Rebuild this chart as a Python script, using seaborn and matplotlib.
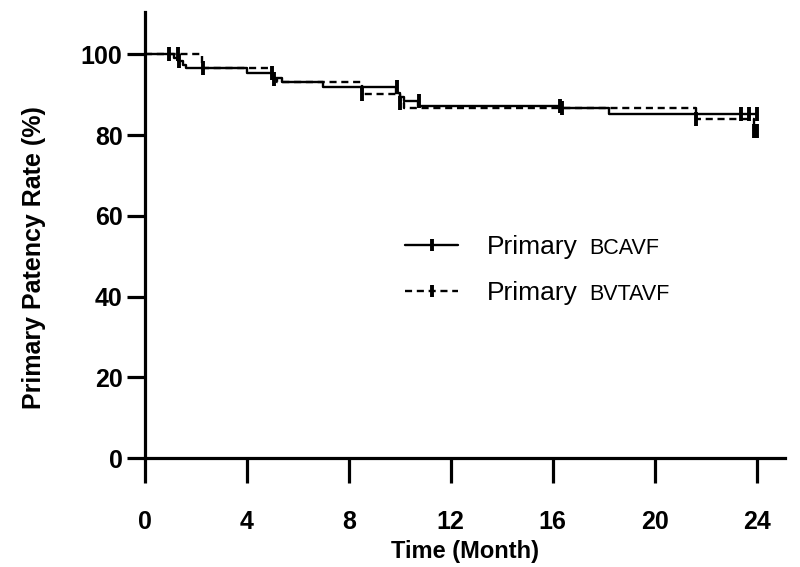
import numpy as np
import pandas as pd
import seaborn as sns
import matplotlib.pyplot as plt
from matplotlib.lines import Line2D

# Kaplan-Meier step values
bcavf_time = [0, 1.15, 1.3, 1.5, 1.6, 4.0, 5.0, 5.4, 7.0, 9.85, 10.0, 10.15, 10.7, 16.3, 18.2, 24.0]
bcavf_rate = [100, 99.2, 98.3, 97.4, 96.5, 95.4, 94.2, 93.1, 91.9, 90.5, 89.5, 88.4, 87.2, 86.8, 85.1, 85.1]
bvtavf_time = [0, 2.25, 5.0, 5.2, 8.5, 10.0, 10.15, 21.6, 23.9, 24.0]
bvtavf_rate = [100, 96.5, 94.0, 93.1, 90.1, 88.0, 86.6, 83.9, 81.0, 81.0]

# censored observations
bcavf_cens_t = [0.95, 1.35, 5.0, 9.9, 10.75, 16.3, 23.4, 23.7, 24.0]
bcavf_cens_r = [100, 98.3, 95.4, 91.9, 88.4, 87.2, 85.1, 85.1, 85.1]
bvtavf_cens_t = [1.3, 2.3, 5.05, 8.5, 10.0, 16.35, 21.6, 23.9, 24.0]
bvtavf_cens_r = [100, 96.5, 94.0, 90.1, 88.0, 86.6, 83.9, 81.0, 81.0]

groups = ['BCAVF', 'BVTAVF']

sns.set_style('white')
plt.rcParams['font.family'] = ['Liberation Sans', 'DejaVu Sans']
plt.rcParams['text.color'] = 'black'

steps = pd.concat([
    pd.DataFrame({'time': bcavf_time, 'rate': bcavf_rate, 'group': groups[0]}),
    pd.DataFrame({'time': bvtavf_time, 'rate': bvtavf_rate, 'group': groups[1]}),
])
cens = pd.concat([
    pd.DataFrame({'time': bcavf_cens_t, 'rate': bcavf_cens_r, 'group': groups[0]}),
    pd.DataFrame({'time': bvtavf_cens_t, 'rate': bvtavf_cens_r, 'group': groups[1]}),
])

fig = plt.figure(figsize=(8, 5.67), dpi=100)
ax = fig.add_axes([0.181, 0.192, 0.80, 0.787])

sns.lineplot(data=steps, x='time', y='rate', style='group',
             dashes={groups[0]: '', groups[1]: (3, 2)}, color='black',
             estimator=None, drawstyle='steps-post', linewidth=1.7,
             legend=False, ax=ax)
sns.scatterplot(data=cens, x='time', y='rate', marker='|', s=90,
                linewidth=2.8, color='black', legend=False, ax=ax, zorder=3)

ax.set_xlim(0, 25.1)
ax.set_ylim(0, 110.5)
ax.set_xticks(np.arange(0, 25, 4))
ax.set_yticks(np.arange(0, 101, 20))

for s in ['top', 'right']:
    ax.spines[s].set_visible(False)
for s in ['left', 'bottom']:
    ax.spines[s].set_linewidth(2.3)
    ax.spines[s].set_color('black')

ax.tick_params(axis='both', direction='out', width=2.3, color='black',
               labelsize=18, bottom=True, left=True, labelcolor='black')
ax.tick_params(axis='x', length=18, pad=19)
ax.tick_params(axis='y', length=13, pad=3)
for lbl in ax.get_xticklabels() + ax.get_yticklabels():
    lbl.set_fontweight('bold')

ax.set_xlabel('Time (Month)', fontsize=17, fontweight='bold', color='black')
ax.set_ylabel('Primary Patency Rate (%)', fontsize=18, fontweight='bold', color='black')
ax.xaxis.set_label_coords(0.5, -0.183)
ax.yaxis.set_label_coords(-0.155, 0.45)

handles = [
    Line2D([0], [0], color='black', lw=1.7, marker='|', markersize=9, mew=2.8),
    Line2D([0], [0], color='black', lw=1.7, ls=(0, (3, 2)), marker='|', markersize=9, mew=2.8),
]
leg = ax.legend(handles, ['Primary', 'Primary'], loc='center left',
                bbox_to_anchor=(0.37, 0.421), frameon=False, fontsize=19,
                handlelength=2.0, handletextpad=1.1, labelspacing=0.85)
for txt, g in zip(leg.get_texts(), groups):
    txt.set_color('black')
    ax.annotate(g, xy=(1, 0.22), xycoords=txt, xytext=(8, 0),
                textcoords='offset points', va='baseline', ha='left',
                fontsize=15.5, color='black', zorder=10)

fig.savefig('out.png', dpi=100)
